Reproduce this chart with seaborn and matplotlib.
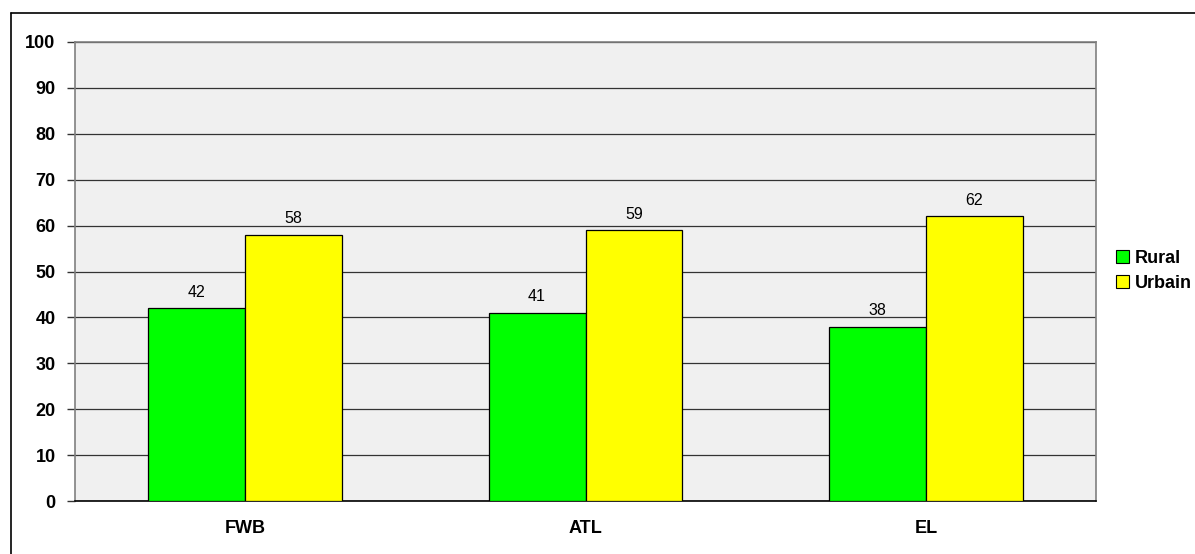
import matplotlib
matplotlib.use("Agg")
import matplotlib.pyplot as plt
from matplotlib.lines import Line2D
from matplotlib.patches import Patch
import pandas as pd
import seaborn as sns

categories = ["FWB", "ATL", "EL"]
rural = [42, 41, 38]
urbain = [58, 59, 62]
series_names = ["Rural", "Urbain"]
y_ticks = [0, 10, 20, 30, 40, 50, 60, 70, 80, 90, 100]

df = pd.DataFrame({
    "cat": categories * 2,
    "serie": [series_names[0]] * 3 + [series_names[1]] * 3,
    "val": rural + urbain,
})

sns.set_style("white")
plt.rcParams["font.family"] = ["Liberation Sans", "DejaVu Sans"]
plt.rcParams["text.color"] = "black"
plt.rcParams["xtick.labelcolor"] = "black"
plt.rcParams["ytick.labelcolor"] = "black"

W, H = 1195, 554
fig = plt.figure(figsize=(W / 100, H / 100), dpi=100)
ax = fig.add_axes([75 / W, 1 - 501 / H, (1096 - 75) / W, (501 - 42) / H])

colors = {"Rural": "#00FF00", "Urbain": "#FFFF00"}
sns.barplot(data=df, x="cat", y="val", hue="serie", order=categories,
            hue_order=series_names, palette=colors, width=0.57,
            edgecolor="black", linewidth=0.9, saturation=1, ax=ax,
            legend=False, zorder=3)

ax.set_facecolor("#F0F0F0")
ax.set_xlim(-0.5, 2.5)
ax.set_ylim(0, 100)
ax.set_yticks(y_ticks)
ax.set_yticklabels([str(v) for v in y_ticks], fontsize=13, fontweight="bold", color="black")
ax.yaxis.grid(True, color="#333333", linewidth=0.9, zorder=0)
ax.set_axisbelow(True)
ax.set_xlabel("")
ax.set_ylabel("")

ax.set_xticks([0, 1, 2])
ax.set_xticklabels(categories, fontsize=13, fontweight="bold", color="black")
ax.tick_params(axis="x", length=0, pad=14)
ax.set_xticks([-0.5, 0.5, 1.5, 2.5], minor=True)
ax.tick_params(axis="x", which="minor", length=6, width=1.2, color="#808080")
ax.tick_params(axis="y", length=6, width=1.0, color="#333333", pad=8, left=True)

for side in ["left", "right", "top"]:
    ax.spines[side].set_color("#808080")
    ax.spines[side].set_linewidth(1.2)
ax.spines["bottom"].set_color("black")
ax.spines["bottom"].set_linewidth(1.2)

for cont in ax.containers:
    ax.bar_label(cont, fmt="%d", padding=6, fontsize=11.5, color="black")

handles = [Patch(facecolor=colors[s], edgecolor="black", linewidth=0.8) for s in series_names]
fig.legend(handles, series_names, loc="center left",
           bbox_to_anchor=(1116 / W, 1 - 271 / H), frameon=False,
           borderpad=0, borderaxespad=0, labelcolor="black",
           prop={"size": 13, "weight": "bold"}, handlelength=0.7,
           handleheight=0.7, handletextpad=0.35, labelspacing=0.45)

# outer chart frame
fig.add_artist(Line2D([11 / W, 11 / W], [0, 1 - 13 / H], transform=fig.transFigure,
                      color="black", linewidth=1.2))
fig.add_artist(Line2D([11 / W, 1], [1 - 13 / H, 1 - 13 / H], transform=fig.transFigure,
                      color="black", linewidth=1.2))

fig.savefig("out.png", dpi=100)
